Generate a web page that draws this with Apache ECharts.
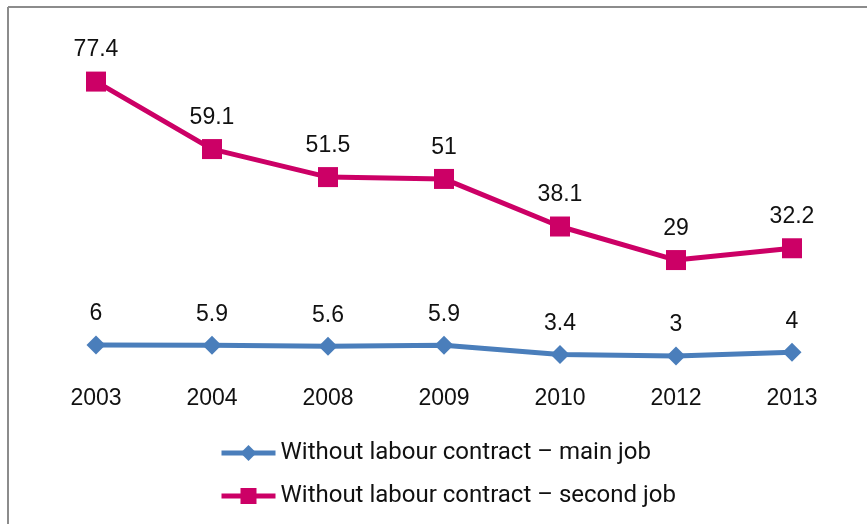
<!DOCTYPE html>
<html>
<head>
<meta charset="utf-8">
<script src="https://cdn.jsdelivr.net/npm/echarts@6/dist/echarts.min.js"></script>
<style>html,body{margin:0;padding:0;background:#fff;}#chart{width:867px;height:524px;}</style>
</head>
<body>
<div id="chart"></div>
<script>
var years = ['2003', '2004', '2008', '2009', '2010', '2012', '2013'];
var mainJob = [6, 5.9, 5.6, 5.9, 3.4, 3, 4];
var secondJob = [77.4, 59.1, 51.5, 51, 38.1, 29, 32.2];
var seriesNames = ['Without labour contract – main job', 'Without labour contract – second job'];

var chart = echarts.init(document.getElementById('chart'));
var labelStyle = {
  show: true, position: 'top', distance: 10,
  fontFamily: 'Liberation Sans, Arial, sans-serif', fontSize: 23, color: '#111'
};
chart.setOption({
  animation: false,
  backgroundColor: '#fff',
  graphic: [
    {type: 'line', shape: {x1: 8, y1: 7, x2: 867, y2: 7}, style: {stroke: '#8c8c8c', lineWidth: 2}},
    {type: 'line', shape: {x1: 8, y1: 7, x2: 8, y2: 524}, style: {stroke: '#8c8c8c', lineWidth: 2}}
  ],
  grid: {left: 38, right: 17, top: 72, bottom: 157, containLabel: false},
  xAxis: {
    type: 'category', data: years, boundaryGap: true,
    axisLine: {show: false}, axisTick: {show: false},
    axisLabel: {margin: 20, fontFamily: 'Liberation Sans, Arial, sans-serif', fontSize: 23, color: '#111'}
  },
  yAxis: {
    type: 'value', min: 0, max: 80, show: false,
    splitLine: {show: false}
  },
  legend: {
    orient: 'vertical', left: 214, top: 436, itemGap: 19,
    itemWidth: 54, itemHeight: 20,
    lineStyle: {width: 5},
    textStyle: {fontFamily: 'Roboto, sans-serif', fontSize: 24, color: '#111'},
    data: seriesNames
  },
  series: [
    {
      name: seriesNames[0], type: 'line', data: mainJob,
      symbol: 'diamond', symbolSize: 19,
      lineStyle: {color: '#4a7ebb', width: 5},
      itemStyle: {color: '#4a7ebb'},
      label: labelStyle
    },
    {
      name: seriesNames[1], type: 'line', data: secondJob,
      symbol: 'rect', symbolSize: 20,
      lineStyle: {color: '#cc0066', width: 5},
      itemStyle: {color: '#cc0066'},
      label: labelStyle
    }
  ]
});
</script>
</body>
</html>
